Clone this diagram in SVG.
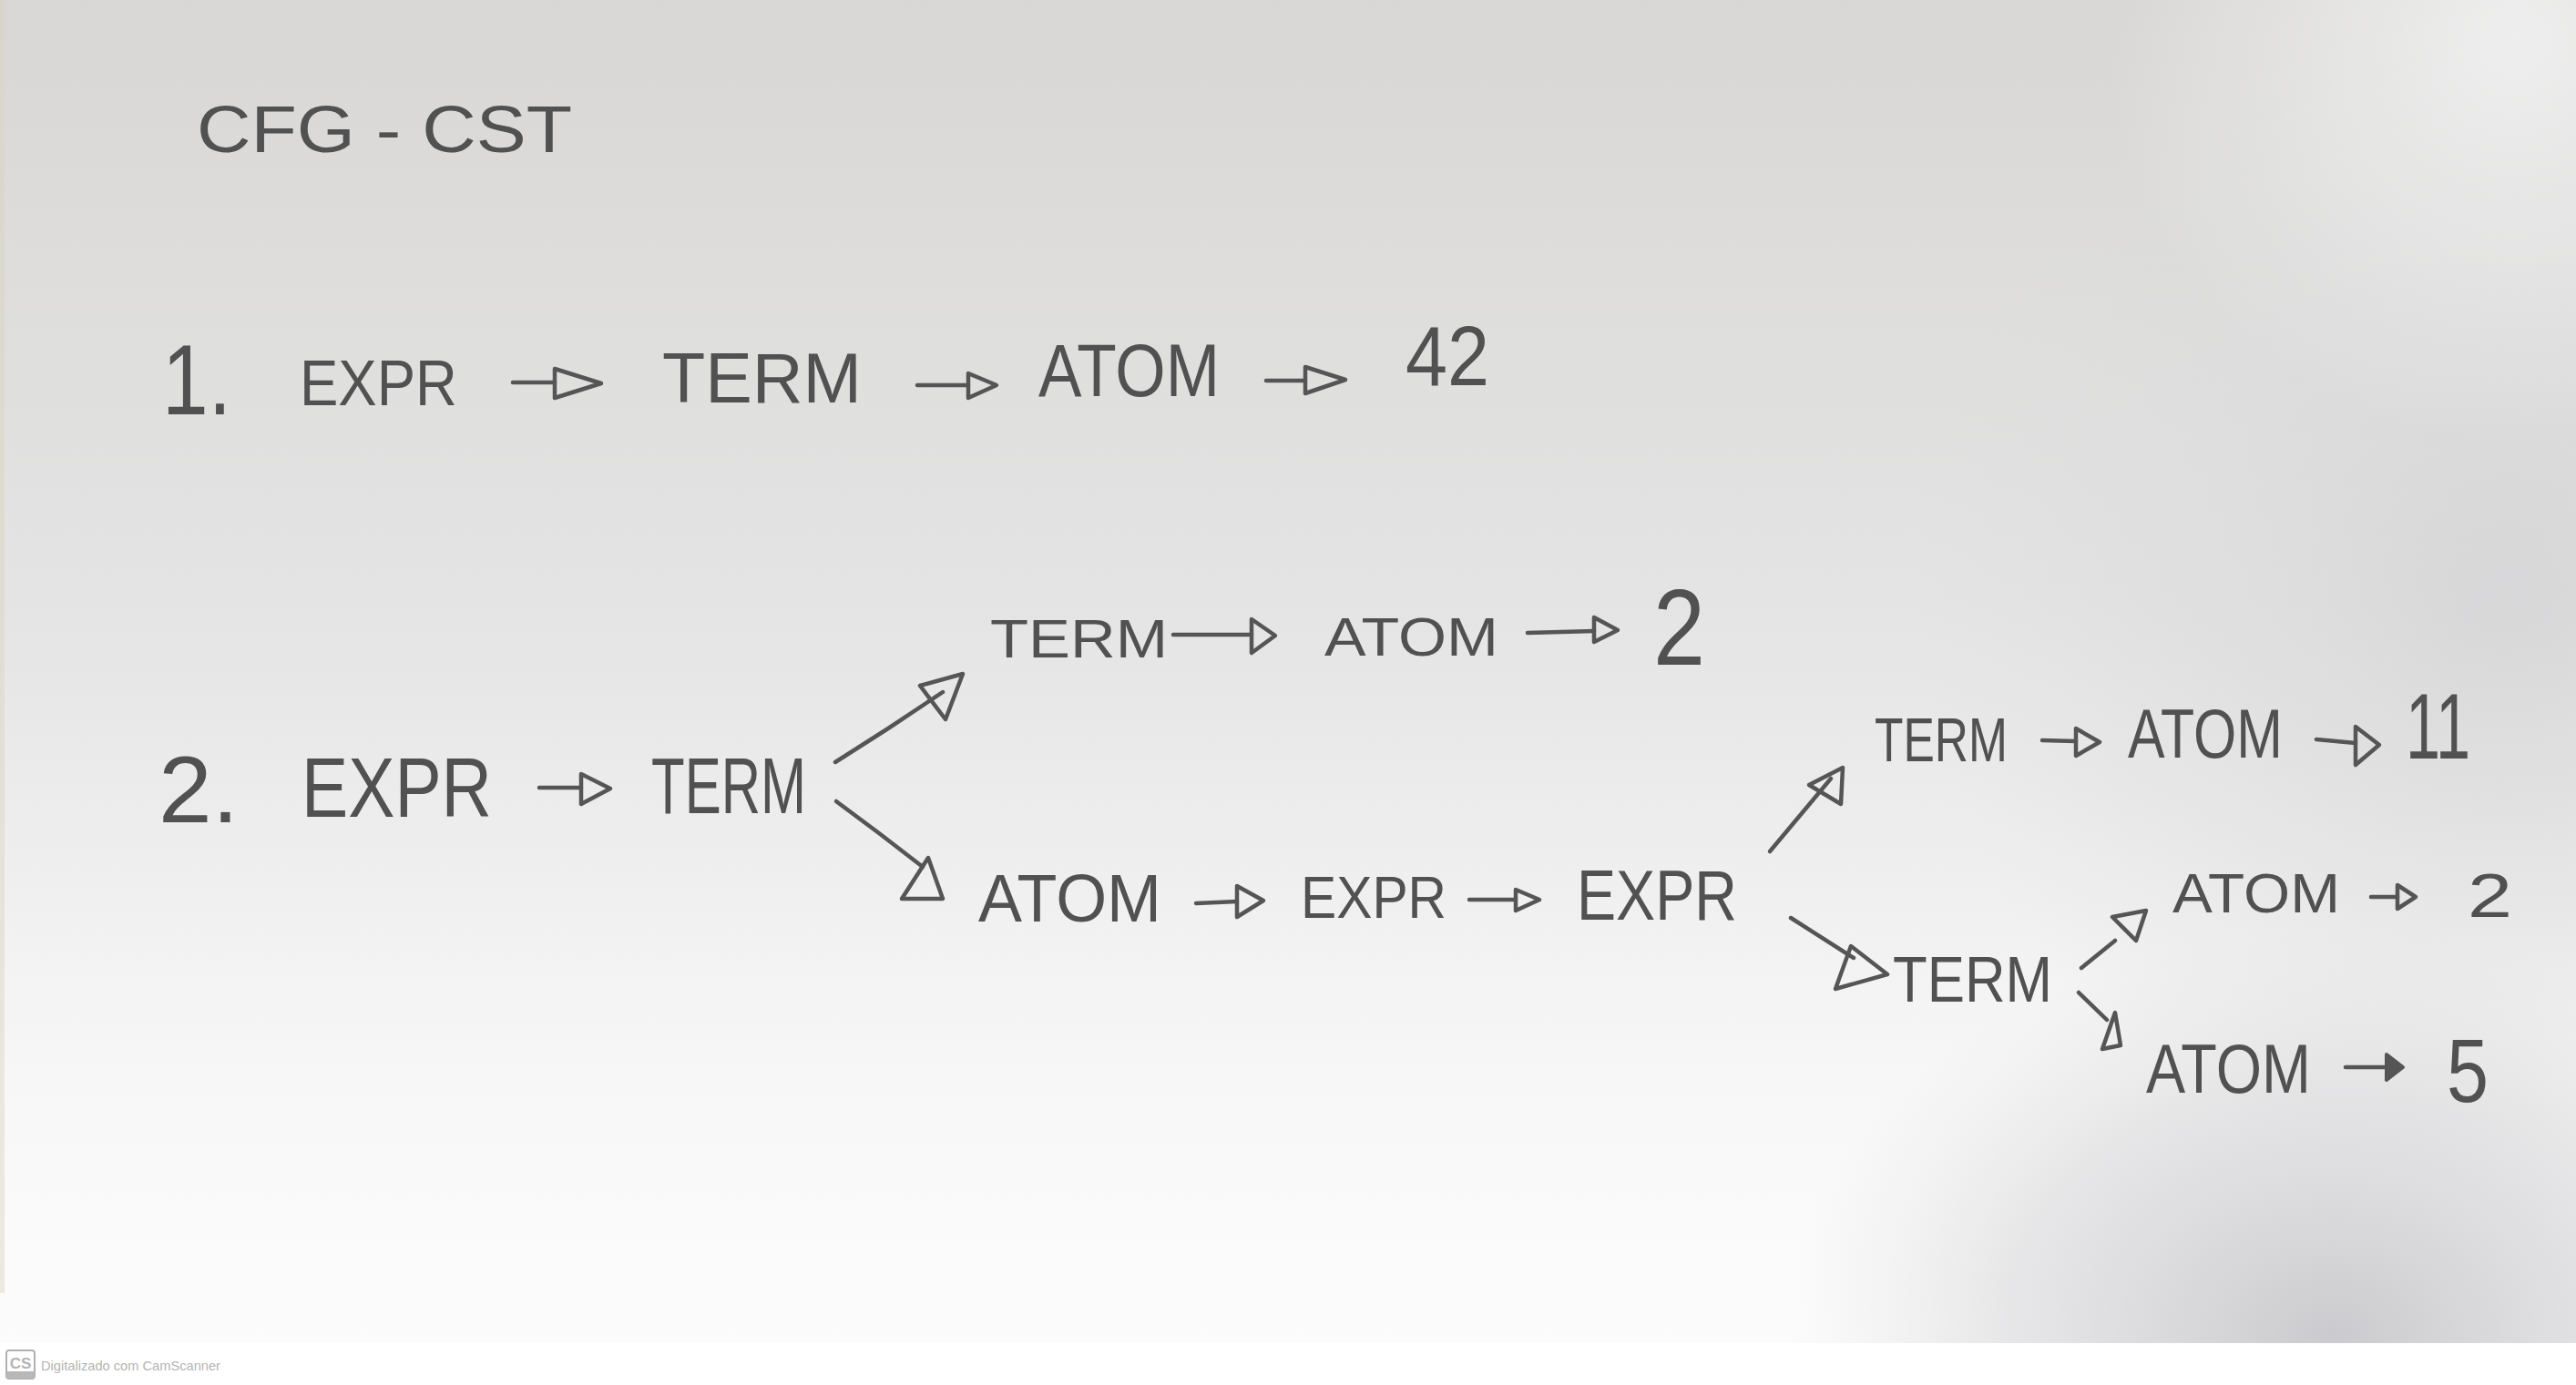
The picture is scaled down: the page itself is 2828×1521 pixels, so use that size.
<svg xmlns="http://www.w3.org/2000/svg" width="2828" height="1521" viewBox="0 0 2828 1521">
  <style>
    .t { font-family: "Liberation Sans", Arial, sans-serif; fill: #515151; }
    .ln { fill: none; stroke: #555555; stroke-width: 4.5; stroke-linecap: round; stroke-linejoin: round; }
    .hd { fill: none; stroke: #555555; stroke-width: 4.5; stroke-linejoin: round; }
    .hdf { fill: #555555; stroke: #555555; stroke-width: 4; stroke-linejoin: round; }
    .wm { font-family: "Liberation Sans", Arial, sans-serif; fill: #b4b4b4; }
  </style>
  <defs>
    <linearGradient id="paper" x1="0" y1="0" x2="0" y2="1">
      <stop offset="0" stop-color="#d8d7d5"/>
      <stop offset="0.45" stop-color="#e4e4e4"/>
      <stop offset="0.8" stop-color="#f7f7f7"/>
      <stop offset="1" stop-color="#fcfcfc"/>
    </linearGradient>
    <radialGradient id="shadeBR" cx="2560" cy="1470" r="600" gradientUnits="userSpaceOnUse" gradientTransform="translate(2560 1470) scale(1 0.75) translate(-2560 -1470)">
      <stop offset="0" stop-color="#c8c8cc" stop-opacity="0.95"/>
      <stop offset="0.6" stop-color="#d2d2d5" stop-opacity="0.5"/>
      <stop offset="1" stop-color="#dcdcdc" stop-opacity="0"/>
    </radialGradient>
    <radialGradient id="shadeR" cx="2750" cy="650" r="650" gradientUnits="userSpaceOnUse">
      <stop offset="0" stop-color="#d4d4d6" stop-opacity="0.8"/>
      <stop offset="1" stop-color="#dcdcdc" stop-opacity="0"/>
    </radialGradient>
    <radialGradient id="lightTR" cx="2760" cy="40" r="450" gradientUnits="userSpaceOnUse">
      <stop offset="0" stop-color="#f2f2f2" stop-opacity="0.85"/>
      <stop offset="1" stop-color="#f2f2f2" stop-opacity="0"/>
    </radialGradient>
  </defs>

  <!-- page background -->
  <rect x="0" y="0" width="2828" height="1521" fill="#ffffff"/>
  <rect x="0" y="0" width="2828" height="1475" fill="url(#paper)"/>
  <rect x="0" y="0" width="2828" height="1475" fill="url(#shadeR)"/>
  <rect x="0" y="0" width="2828" height="1475" fill="url(#shadeBR)"/>
  <rect x="0" y="0" width="2828" height="1475" fill="url(#lightTR)"/>
  <rect x="0" y="0" width="5" height="1420" fill="#d9d2bd" opacity="0.45"/>

  <!-- title -->
  <g id="title">
    <text class="t" x="216" y="167" font-size="73" textLength="412" lengthAdjust="spacingAndGlyphs">CFG - CST</text>
  </g>

  <!-- example 1 -->
  <g id="label-1"><text class="t" x="178" y="455" font-size="110" textLength="76" lengthAdjust="spacingAndGlyphs">1.</text></g>
  <g id="n1-expr"><text class="t" x="329" y="445" font-size="70" textLength="173" lengthAdjust="spacingAndGlyphs">EXPR</text></g>
  <g id="n1-term"><text class="t" x="727" y="442" font-size="78" textLength="219" lengthAdjust="spacingAndGlyphs">TERM</text></g>
  <g id="n1-atom"><text class="t" x="1140" y="435" font-size="82" textLength="199" lengthAdjust="spacingAndGlyphs">ATOM</text></g>
  <g id="n1-42"><text class="t" x="1543" y="423" font-size="92" textLength="92" lengthAdjust="spacingAndGlyphs">42</text></g>

  <!-- example 2 -->
  <g id="label-2"><text class="t" x="174" y="903" font-size="104" textLength="88" lengthAdjust="spacingAndGlyphs">2.</text></g>
  <g id="n2-expr"><text class="t" x="331" y="897" font-size="93" textLength="209" lengthAdjust="spacingAndGlyphs">EXPR</text></g>
  <g id="n2-term"><text class="t" x="715" y="893" font-size="88" textLength="170" lengthAdjust="spacingAndGlyphs">TERM</text></g>

  <g id="n2-term-a"><text class="t" x="1087" y="722" font-size="60" textLength="195" lengthAdjust="spacingAndGlyphs">TERM</text></g>
  <g id="n2-atom-a"><text class="t" x="1454" y="720" font-size="60" textLength="191" lengthAdjust="spacingAndGlyphs">ATOM</text></g>
  <g id="n2-2a"><text class="t" x="1815" y="730" font-size="118" textLength="57" lengthAdjust="spacingAndGlyphs">2</text></g>

  <g id="n2-atom-b"><text class="t" x="1074" y="1012" font-size="74" textLength="201" lengthAdjust="spacingAndGlyphs">ATOM</text></g>
  <g id="n2-expr-b"><text class="t" x="1428" y="1008" font-size="64" textLength="160" lengthAdjust="spacingAndGlyphs">EXPR</text></g>
  <g id="n2-expr-c"><text class="t" x="1731" y="1010" font-size="77" textLength="176" lengthAdjust="spacingAndGlyphs">EXPR</text></g>

  <g id="n2-term-c"><text class="t" x="2058" y="836" font-size="68" textLength="146" lengthAdjust="spacingAndGlyphs">TERM</text></g>
  <g id="n2-atom-c"><text class="t" x="2336" y="832" font-size="76" textLength="170" lengthAdjust="spacingAndGlyphs">ATOM</text></g>
  <g id="n2-11"><text class="t" x="2641" y="833" font-size="102" textLength="71" lengthAdjust="spacingAndGlyphs">11</text></g>

  <g id="n2-term-d"><text class="t" x="2078" y="1100" font-size="70" textLength="175" lengthAdjust="spacingAndGlyphs">TERM</text></g>
  <g id="n2-atom-d"><text class="t" x="2385" y="1002" font-size="61" textLength="184" lengthAdjust="spacingAndGlyphs">ATOM</text></g>
  <g id="n2-2b"><text class="t" x="2709" y="1007" font-size="68" textLength="49" lengthAdjust="spacingAndGlyphs">2</text></g>
  <g id="n2-atom-e"><text class="t" x="2356" y="1200" font-size="76" textLength="181" lengthAdjust="spacingAndGlyphs">ATOM</text></g>
  <g id="n2-5"><text class="t" x="2686" y="1210" font-size="98" textLength="46" lengthAdjust="spacingAndGlyphs">5</text></g>

  <!-- connectors -->
  <g id="connectors">
    <!-- line 1 -->
    <path class="ln" d="M563,420 L609,420"/><polygon class="hd" points="609,405 660,421 609,437"/>
    <path class="ln" d="M1007,423 L1063,423"/><polygon class="hd" points="1063,410 1094,423 1063,437"/>
    <path class="ln" d="M1390,418 L1433,418"/><polygon class="hd" points="1433,403 1477,417 1433,432"/>
    <!-- line 2 -->
    <path class="ln" d="M592,865 L638,865"/><polygon class="hd" points="638,850 670,866 638,883"/>
    <path class="ln" d="M1288,697 L1374,697"/><polygon class="hd" points="1374,680 1400,698 1374,717"/>
    <path class="ln" d="M1677,695 L1750,693"/><polygon class="hd" points="1750,678 1776,692 1750,705"/>
    <path class="ln" d="M1313,992 L1358,990"/><polygon class="hd" points="1358,973 1387,989 1358,1007"/>
    <path class="ln" d="M1613,988 L1664,988"/><polygon class="hd" points="1664,977 1690,988 1664,1000"/>
    <path class="ln" d="M2242,813 L2279,814"/><polygon class="hd" points="2279,800 2305,815 2279,830"/>
    <path class="ln" d="M2543,812 L2586,816"/><polygon class="hd" points="2586,798 2612,818 2586,840"/>
    <path class="ln" d="M2603,985 L2632,985"/><polygon class="hd" points="2632,972 2652,985 2632,998"/>
    <path class="ln" d="M2575,1172 L2620,1172"/><polygon class="hdf" points="2620,1158 2638,1172 2620,1186"/>
    <!-- branches -->
    <path class="ln" d="M917,837 L975,800 L1035,760"/><polygon class="hd" points="1010,753 1057,740 1038,790"/>
    <path class="ln" d="M918,880 L965,915 L1013,952"/><polygon class="hd" points="1019,942 1035,987 990,987"/>
    <path class="ln" d="M1943,935 L2010,855"/><polygon class="hd" points="1986,862 2023,843 2021,883"/>
    <path class="ln" d="M1966,1008 L2035,1052"/><polygon class="hd" points="2032,1039 2072,1070 2015,1086"/>
    <path class="ln" d="M2285,1063 L2322,1033"/><polygon class="hd" points="2319,1007 2356,1000 2345,1033"/>
    <path class="ln" d="M2282,1090 L2313,1120"/><polygon class="hd" points="2322,1112 2328,1148 2308,1152"/>
  </g>

  <!-- scanner watermark -->
  <g id="watermark">
    <rect x="7" y="1483" width="31" height="31" rx="3" fill="none" stroke="#b0b0b0" stroke-width="2"/>
    <rect x="7" y="1506" width="31" height="8" fill="#b8b8b8"/>
    <text x="22.5" y="1503" font-size="17" font-weight="bold" text-anchor="middle" class="wm" fill="#a8a8a8">CS</text>
    <text class="wm" x="45" y="1505" font-size="15" textLength="197" lengthAdjust="spacingAndGlyphs">Digitalizado com CamScanner</text>
  </g>
</svg>
